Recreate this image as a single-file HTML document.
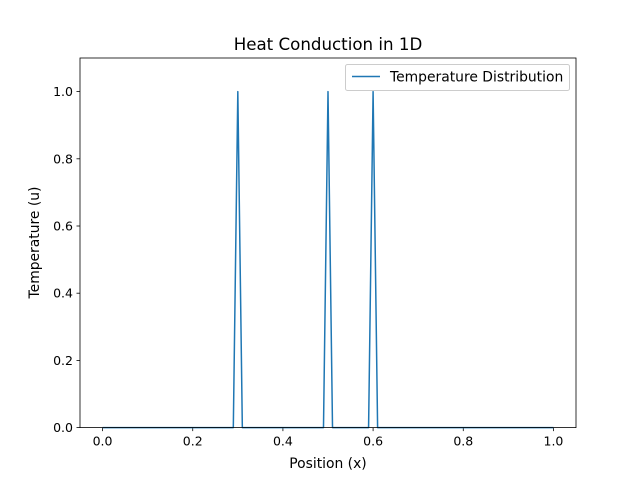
<!DOCTYPE html>
<html><head><meta charset="utf-8"><style>
body{margin:0;background:#fff}
svg text{font-family:"DejaVu Sans","Liberation Sans",sans-serif;fill:#000}
</style></head><body>
<svg id="chart" width="640" height="480" viewBox="0 0 640 480">
<rect width="640" height="480" fill="#fff"/>
<text x="328" y="50" font-size="16.67" text-anchor="middle">Heat Conduction in 1D</text>
<g id="ticks"></g>
<path id="series" fill="none" stroke="#1f77b4" stroke-width="1.5" stroke-linejoin="round"/>
<rect x="80" y="58" width="496" height="369.6" fill="none" stroke="#000" stroke-width="0.8"/>
<text x="328" y="468" font-size="13.89" text-anchor="middle">Position (x)</text>
<text transform="translate(39,242.5) rotate(-90)" font-size="13.89" text-anchor="middle">Temperature (u)</text>
<g>
<rect x="345.5" y="64.5" width="224" height="26" rx="2" fill="#fff" fill-opacity="0.8" stroke="#ccc" stroke-width="1"/>
<line x1="352" y1="76.5" x2="380" y2="76.5" stroke="#1f77b4" stroke-width="1.5"/>
<text x="390" y="81.5" font-size="13.89">Temperature Distribution</text>
</g>
</svg>
<script>
const xValues = [0, 0.29, 0.30, 0.31, 0.49, 0.50, 0.51, 0.59, 0.60, 0.61, 1.0];
const uValues = [0, 0, 1, 0, 0, 1, 0, 0, 1, 0, 0];
const xTicks = [0.0, 0.2, 0.4, 0.6, 0.8, 1.0];
const yTicks = [0.0, 0.2, 0.4, 0.6, 0.8, 1.0];
const L=80,R=576,T=58,B=427.6;
const xMin=-0.05,xMax=1.05,yMin=0,yMax=1.1;
function sx(v){return L+(v-xMin)/(xMax-xMin)*(R-L);}
function sy(v){return B-(v-yMin)/(yMax-yMin)*(B-T);}
const NS="http://www.w3.org/2000/svg";
const g=document.getElementById('ticks');
xTicks.forEach(t=>{
  const l=document.createElementNS(NS,'line');
  
  
  l.setAttribute('x1',sx(t));l.setAttribute('x2',sx(t));l.setAttribute('y1',B);l.setAttribute('y2',B+3.5);
  l.setAttribute('stroke','#000');l.setAttribute('stroke-width','0.8');g.appendChild(l);
  const tx=document.createElementNS(NS,'text');
  
  
  tx.setAttribute('x',sx(t));tx.setAttribute('y',B+18);tx.setAttribute('font-size','12.5');
  tx.setAttribute('text-anchor','middle');tx.textContent=t.toFixed(1);g.appendChild(tx);
});
yTicks.forEach(t=>{
  const l=document.createElementNS(NS,'line');
  
  
  l.setAttribute('x1',L-3.5);l.setAttribute('x2',L);l.setAttribute('y1',sy(t));l.setAttribute('y2',sy(t));
  l.setAttribute('stroke','#000');l.setAttribute('stroke-width','0.8');g.appendChild(l);
  const tx=document.createElementNS(NS,'text');
  
  
  tx.setAttribute('x',L-7);tx.setAttribute('y',sy(t)+4.5);tx.setAttribute('font-size','12.5');
  tx.setAttribute('text-anchor','end');tx.textContent=t.toFixed(1);g.appendChild(tx);
});
document.getElementById('series').setAttribute('d',
  xValues.map((x,i)=>(i?'L':'M')+sx(x).toFixed(2)+','+sy(uValues[i]).toFixed(2)).join(' '));
</script>
</body></html>
